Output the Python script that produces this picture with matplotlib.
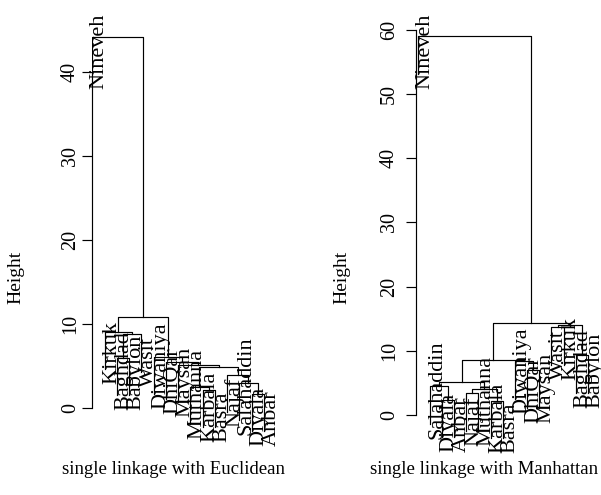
import matplotlib
matplotlib.use("Agg")
import matplotlib.pyplot as plt
from matplotlib.transforms import offset_copy

plt.rcParams['font.family'] = ['Liberation Serif', 'DejaVu Serif']

# leaves in plotting order
labels_euc = ["Nineveh", "Kirkuk", "Baghdad", "Babylon", "Wasit", "Diwaniya", "DhiQar",
              "Maysan", "Muthanna", "Karbala", "Basra", "Najaf", "Salahaddin", "Diyala", "Anbar"]
# R style merge rows: negative = leaf, positive = earlier row
merge_euc = [(-14, -15), (-10, -11), (-9, 2), (-13, 1), (-12, 4), (3, 5), (-8, 6),
             (-7, 7), (-3, -4), (-6, 8), (9, -5), (-2, 11), (12, 10), (-1, 13)]
height_euc = [1.75, 2.2, 2.5, 3.0, 4.0, 4.9, 5.2, 5.5, 6.0, 6.1, 8.8, 9.1, 10.9, 44.2]

labels_man = ["Nineveh", "Salahaddin", "Diyala", "Anbar", "Najaf", "Muthanna", "Karbala",
              "Basra", "Diwaniya", "DhiQar", "Maysan", "Wasit", "Kirkuk", "Baghdad", "Babylon"]
merge_man = [(-7, -8), (-3, -4), (-5, -6), (3, 1), (-2, 2), (5, 4), (-10, -11),
             (-9, 7), (6, 8), (-14, -15), (-12, -13), (11, 10), (9, 12), (-1, 13)]
height_man = [2.25, 2.4, 3.4, 4.0, 4.5, 5.2, 7.0, 8.4, 8.6, 9.4, 13.7, 14.0, 14.4, 59.0]


def draw_tree(ax, labels, merge, height, hang=0.1):
    hng = hang * max(height)
    xs = {}
    leaf_end = {}
    for i, (a, b) in enumerate(merge):
        h = height[i]
        pts = []
        for c in (a, b):
            if c < 0:
                x = -c
                y0 = h - hng
                leaf_end[-c] = y0
            else:
                x, y0 = xs[c]
            pts.append((x, y0))
        (x1, y1), (x2, y2) = pts
        ax.plot([x1, x1, x2, x2], [y1, h, h, y2], color='black', lw=0.85)
        xs[i + 1] = ((x1 + x2) / 2.0, h)
    tr = offset_copy(ax.transData, fig=ax.figure, x=7, y=-15, units='dots')
    for j, lab in enumerate(labels):
        ax.text(j + 1, leaf_end[j + 1], lab, rotation=90, ha='center', va='bottom',
                fontsize=16, transform=tr)


fig = plt.figure(figsize=(6.01, 4.95), dpi=100)
W, H = 601.0, 495.0


def make_axes(left_px, right_px, top_px, bottom_px):
    return fig.add_axes([left_px / W, 1 - bottom_px / H, (right_px - left_px) / W,
                         (bottom_px - top_px) / H])


# left panel: 0 -> y 408.3, 8.4 px per unit, leaf 1 at x 92.3, 12.25 px apart
ax1 = make_axes(92.3, 92.3 + 15 * 12.25, 20, 440)
ax1.set_xlim(1, 16)
ax1.set_ylim((408.3 - 440) / 8.4, (408.3 - 20) / 8.4)
draw_tree(ax1, labels_euc, merge_euc, height_euc)
ax1.set_yticks([0, 10, 20, 30, 40])

# right panel: 0 -> y 415, 6.417 px per unit, leaf 1 at x 417.5, 12.18 px apart
ax2 = make_axes(415.5, 601, 20, 440)
ax2.set_xlim(1 - 2 / 12.18, 1 + (601 - 417.5) / 12.18)
ax2.set_ylim((415 - 440) / 6.417, (415 - 20) / 6.417)
draw_tree(ax2, labels_man, merge_man, height_man)
ax2.set_yticks([0, 10, 20, 30, 40, 50, 60])

for ax, top, pad in ((ax1, 40, 1.5), (ax2, 60, 4.5)):
    for s in ('top', 'right', 'bottom'):
        ax.spines[s].set_visible(False)
    ax.spines['left'].set_bounds(0, top)
    ax.spines['left'].set_linewidth(0.85)
    ax.set_xticks([])
    ax.tick_params(axis='y', direction='out', length=7.5, width=0.85, pad=pad, labelsize=14.5)
    for t in ax.get_yticklabels():
        t.set_rotation(90)
        t.set_va('center')
        t.set_ha('right')
    ax.patch.set_alpha(0)

fig.text(16 / W, 1 - 277 / H, "Height", rotation=90, ha='center', va='center', fontsize=14)
fig.text(342 / W, 1 - 277 / H, "Height", rotation=90, ha='center', va='center', fontsize=14)
fig.text(174 / W, 1 - 470 / H, "single linkage with Euclidean", ha='center', va='center', fontsize=13.5)
fig.text(484 / W, 1 - 470 / H, "single linkage with Manhattan", ha='center', va='center', fontsize=13.5)

fig.savefig("out.png", dpi=100)
